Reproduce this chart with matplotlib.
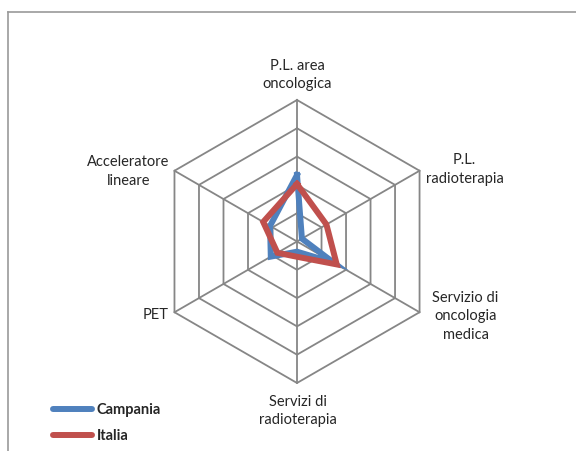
import numpy as np
import matplotlib
matplotlib.use("Agg")
import matplotlib.pyplot as plt
from matplotlib.lines import Line2D

# categories, clockwise from the top
categories = ["P.L. area\noncologica", "P.L.\nradioterapia", "Servizio di\noncologia\nmedica",
              "Servizi di\nradioterapia", "PET", "Acceleratore\nlineare"]
campania = [2.35, 0.2, 1.5, 0.36, 1.07, 1.1]
italia = [2.03, 1.2, 1.62, 0.54, 0.8, 1.38]
rings = [1, 2, 3, 4, 5]

plt.rcParams["font.family"] = ["Lato", "DejaVu Sans"]

n = len(categories)
theta = np.arange(n) * 2 * np.pi / n
theta_closed = np.append(theta, theta[0])

fig = plt.figure(figsize=(5.76, 4.51), dpi=100)
ax = fig.add_axes([0.27, 0.1508, 0.4913, 0.6275], projection="polar")
ax.set_theta_zero_location("N")
ax.set_theta_direction(-1)
ax.set_ylim(0, rings[-1])
ax.grid(False)
ax.spines["polar"].set_visible(False)
ax.set_xticks([])
ax.set_yticks([])
ax.patch.set_alpha(0)

grid_col = "#868686"
for r in rings:
    ax.plot(theta_closed, [r] * (n + 1), color=grid_col, lw=1.3, zorder=1, clip_on=False)
for t in theta:
    ax.plot([t, t], [0, rings[-1]], color=grid_col, lw=1.3, zorder=1, clip_on=False)

ax.plot(theta_closed, campania + campania[:1], color="#4f81bd", lw=4.3,
        solid_joinstyle="miter", zorder=3, label="Campania")
ax.plot(theta_closed, italia + italia[:1], color="#c0504d", lw=4.3,
        solid_joinstyle="miter", zorder=4, label="Italia")

offsets = [(0, 25), (45, 1), (46, -4), (1, -28), (-19, -3), (-46, -1)]
for t, lab, off in zip(theta, categories, offsets):
    ax.annotate(lab, xy=(t, rings[-1]), xytext=off, textcoords="offset pixels",
                ha="center", va="center", fontsize=10.5, color="#262626",
                linespacing=1.42, annotation_clip=False)

leg = fig.legend(loc="center left", bbox_to_anchor=(53 / 576, 1 - 423 / 451), frameon=False,
                 borderaxespad=0, borderpad=0, handlelength=2.7, handletextpad=0.3,
                 labelspacing=0.85, prop={"weight": "bold", "size": 10.5})
for txt in leg.get_texts():
    txt.set_color("#262626")
for h in leg.get_lines():
    h.set_solid_capstyle("round")

# chart-area border (left and top only visible)
fig.add_artist(Line2D([8 / 576, 8 / 576], [0, 1 - 12 / 451], color="#9a9a9a", lw=1.2,
                      transform=fig.transFigure))
fig.add_artist(Line2D([8 / 576, 1], [1 - 12 / 451, 1 - 12 / 451], color="#9a9a9a", lw=1.2,
                      transform=fig.transFigure))

fig.savefig("out.png", dpi=100)
